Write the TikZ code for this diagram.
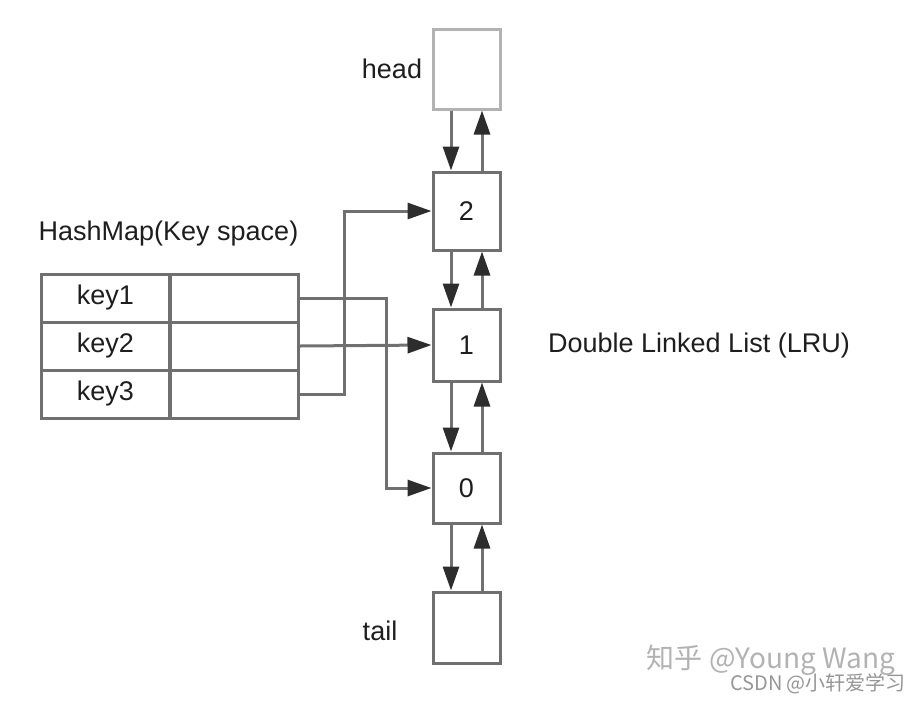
\documentclass[tikz,border=0pt]{standalone}
\usepackage{fontspec}
\setmainfont{Liberation Sans}
\newfontfamily\cjkfont{Noto Sans CJK SC}
\usepackage{xcolor}
\definecolor{lrugrey}{RGB}{112,112,112}
\definecolor{lrulight}{RGB}{178,178,178}
\definecolor{lrudark}{RGB}{45,45,45}
\definecolor{lrutext}{RGB}{30,30,30}
\definecolor{wmgrey}{RGB}{150,150,150}
\usetikzlibrary{arrows.meta}
\newcommand{\lrufont}{\fontsize{13.5}{16}\selectfont}
\tikzset{
  cell/.style={draw=lrugrey, line width=1.5pt, minimum width=64.5pt, minimum height=24pt, inner sep=0pt, font=\lrufont, text=lrutext},
  slot/.style={draw=lrugrey, line width=1.5pt, minimum width=33.5pt, minimum height=36pt, inner sep=0pt, font=\lrufont, text=lrutext},
  arr/.style={draw=lrugrey, line width=1.5pt, -{Triangle[length=12pt,width=8pt,color=lrudark]}},
  lbl/.style={font=\lrufont, text=lrutext, inner sep=0pt},
  wmark/.style={inner sep=0pt}
}

\begin{document}
\begin{tikzpicture}[x=0.5pt, y=-0.5pt]
  \useasboundingbox (0,0) rectangle (916,702);
  \node[slot, draw=lrulight, minimum height=40pt] (head) at (466.5,69) {};
  \node[slot, minimum height=39pt] (n2) at (466.5,211) {2};
  \node[slot] (n1) at (466.5,345) {1};
  \node[slot, minimum height=35pt] (n0) at (466.5,488) {0};
  \node[slot, minimum height=35.5pt] (tail) at (466.5,627.5) {};
  \node[lbl] (headlbl) at (392,69) {head};
  \node[lbl] (taillbl) at (380,631) {tail};
  \node[lbl] (dll) at (699,346) {Double Linked List (LRU)};
  \node[lbl] (hm) at (168.5,234) {HashMap(Key space)};
  \node[cell] (k1) at (105.5,298) {key1};
  \node[cell] (v1) at (234,298) {};
  \node[cell] (k2) at (105.5,346) {key2};
  \node[cell] (v2) at (234,346) {};
  \node[cell] (k3) at (105.5,394) {key3};
  \node[cell] (v3) at (234,394) {};
  \coordinate (j1) at (386,298);
  \coordinate (j3) at (344,394);
  \draw[arr] ([xshift=-7.75pt]head.south) -- ([xshift=-7.75pt]n2.north);
  \draw[arr] ([xshift=7.75pt]n2.north) -- ([xshift=7.75pt]head.south);
  \draw[arr] ([xshift=-7.75pt]n2.south) -- ([xshift=-7.75pt]n1.north);
  \draw[arr] ([xshift=7.75pt]n1.north) -- ([xshift=7.75pt]n2.south);
  \draw[arr] ([xshift=-7.75pt]n1.south) -- ([xshift=-7.75pt]n0.north);
  \draw[arr] ([xshift=7.75pt]n0.north) -- ([xshift=7.75pt]n1.south);
  \draw[arr] ([xshift=-7.75pt]n0.south) -- ([xshift=-7.75pt]tail.north);
  \draw[arr] ([xshift=7.75pt]tail.north) -- ([xshift=7.75pt]n0.south);
  \draw[arr] (v1.east) -- (j1) |- (n0.west);
  \draw[arr] (v2.east) -- (n1.west);
  \draw[arr] (v3.east) -- (j3) |- (n2.west);
  \node[wmark, text=lrulight, font=\cjkfont\fontsize{14}{16}\selectfont] (zh) at (771,660) {知乎 @Young Wang};
  \node[wmark, text=wmgrey, font=\cjkfont\fontsize{10}{12}\selectfont] (csdn) at (818,684) {CSDN @小轩爱学习};
\end{tikzpicture}
\end{document}
